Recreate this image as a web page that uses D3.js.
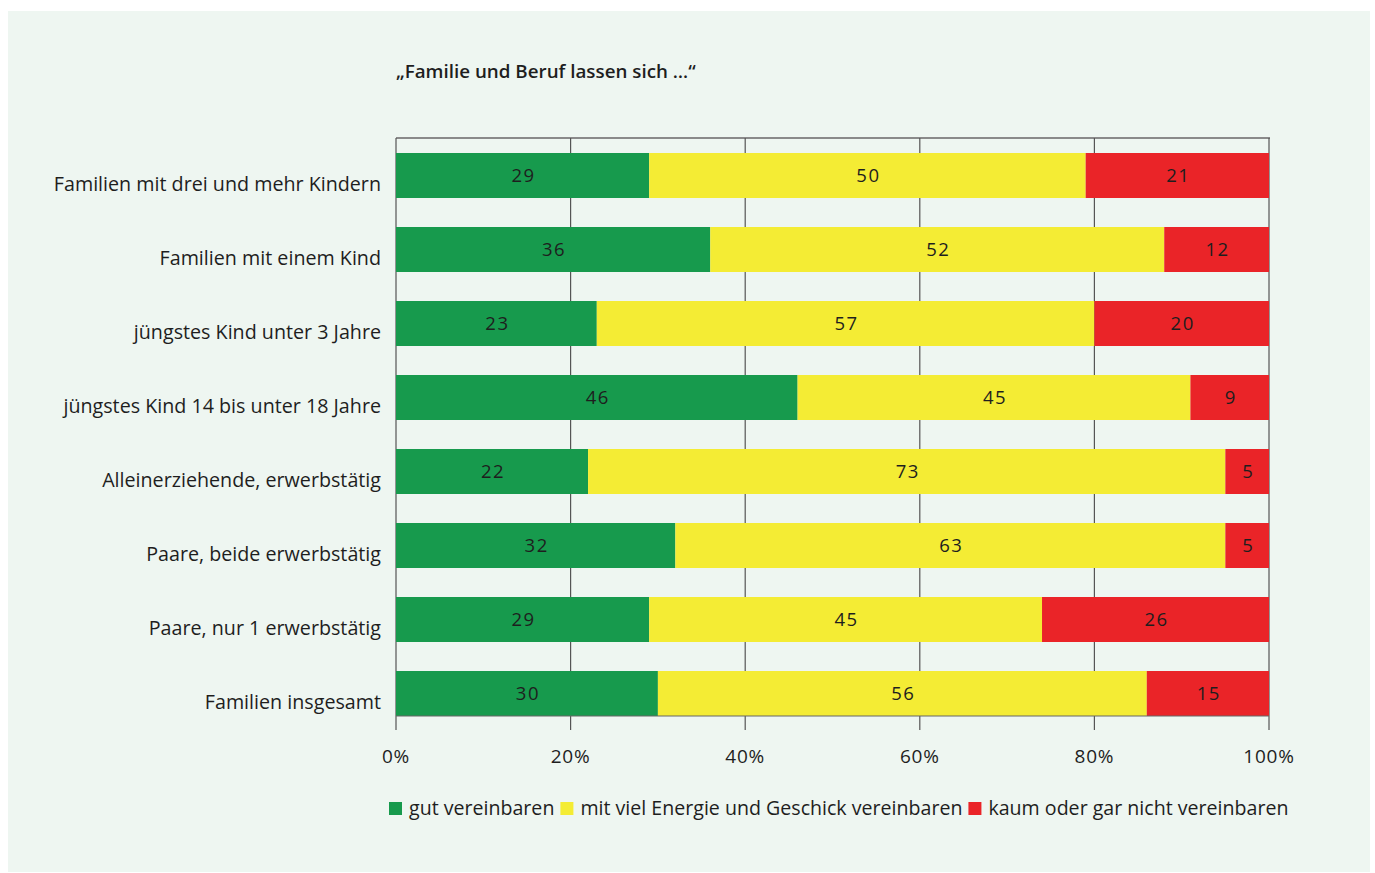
<!DOCTYPE html>
<html>
<head>
<meta charset="utf-8">
<script src="https://cdn.jsdelivr.net/npm/d3@7"></script>
<style>
  html, body { margin: 0; padding: 0; background: #ffffff; }
  svg { display: block; }
  text { font-family: "Open Sans", "Noto Sans", sans-serif; fill: #1e1e1e; }
</style>
</head>
<body>
<svg id="chart" width="1375" height="873"></svg>
<script>
const categories = [
  "Familien mit drei und mehr Kindern",
  "Familien mit einem Kind",
  "jüngstes Kind unter 3 Jahre",
  "jüngstes Kind 14 bis unter 18 Jahre",
  "Alleinerziehende, erwerbstätig",
  "Paare, beide erwerbstätig",
  "Paare, nur 1 erwerbstätig",
  "Familien insgesamt"
];
const seriesNames = [
  "gut vereinbaren",
  "mit viel Energie und Geschick vereinbaren",
  "kaum oder gar nicht vereinbaren"
];
const gut     = [29, 36, 23, 46, 22, 32, 29, 30];
const energie = [50, 52, 57, 45, 73, 63, 45, 56];
const kaum    = [21, 12, 20,  9,  5,  5, 26, 15];
const colors  = ["#179a4d", "#f4ec34", "#ea2428"];
const tickValues = [0, 20, 40, 60, 80, 100];
const title = "„Familie und Beruf lassen sich …“";

const svg = d3.select("#chart");

// background panel
svg.append("rect").attr("x", 8).attr("y", 11).attr("width", 1362).attr("height", 861)
  .attr("fill", "#eef6f1");

const plotLeft = 396, plotRight = 1269, plotTop = 138, plotBottom = 716;

// rounded shares can add up to 101 – the scale is clamped at 100 %
const x = d3.scaleLinear().domain([0, 100]).range([plotLeft, plotRight]).clamp(true);
const y = d3.scaleBand().domain(categories).range([153, plotBottom])
  .paddingInner(29 / 74).paddingOuter(0);

// title
svg.append("text").attr("x", plotLeft).attr("y", 78)
  .attr("font-size", 18.8).attr("font-weight", 600).text(title);

// frame top line
svg.append("line").attr("x1", plotLeft).attr("x2", plotRight + 1)
  .attr("y1", plotTop).attr("y2", plotTop)
  .attr("stroke", "#8a8a8a").attr("stroke-width", 2);

// vertical grid lines with ticks below the plot
svg.append("g").selectAll("line").data(tickValues).join("line")
  .attr("x1", d => x(d)).attr("x2", d => x(d))
  .attr("y1", plotTop).attr("y2", plotBottom + 14)
  .attr("stroke", "#555").attr("stroke-width", 1.2);

// stacked bars
const rows = categories.map((c, i) => ({ cat: c, vals: [gut[i], energie[i], kaum[i]] }));
const stackData = rows.map(r => {
  let acc = 0;
  return r.vals.map((v, k) => { const s = { cat: r.cat, k, v, x0: acc, x1: acc + v }; acc += v; return s; });
}).flat();

svg.append("g").selectAll("rect").data(stackData).join("rect")
  .attr("x", d => x(d.x0)).attr("width", d => x(d.x1) - x(d.x0))
  .attr("y", d => y(d.cat)).attr("height", y.bandwidth())
  .attr("fill", d => colors[d.k]);

svg.append("g").selectAll("text").data(stackData).join("text")
  .attr("x", d => (x(d.x0) + x(d.x1)) / 2 + 1)
  .attr("y", d => y(d.cat) + y.bandwidth() / 2 + 6.5)
  .attr("text-anchor", "middle").attr("font-size", 18.5)
  .attr("letter-spacing", 1.5)
  .text(d => d.v);

// bottom axis line
svg.append("line").attr("x1", plotLeft).attr("x2", plotRight)
  .attr("y1", plotBottom).attr("y2", plotBottom)
  .attr("stroke", "#666").attr("stroke-width", 1);

// category labels
svg.append("g").selectAll("text").data(categories).join("text")
  .attr("x", 381).attr("y", d => y(d) + y.bandwidth() / 2 + 15)
  .attr("text-anchor", "end").attr("font-size", 19.7)
  .text(d => d);

// x tick labels
svg.append("g").selectAll("text").data(tickValues).join("text")
  .attr("x", d => x(d)).attr("y", 763)
  .attr("text-anchor", "middle").attr("font-size", 19)
  .attr("letter-spacing", 0.8)
  .text(d => d + "%");

// legend
const legend = svg.append("g");
let lx = 389;
seriesNames.forEach((name, k) => {
  legend.append("rect").attr("x", lx).attr("y", 802).attr("width", 13).attr("height", 13)
    .attr("fill", colors[k]);
  const t = legend.append("text").attr("x", lx + 20).attr("y", 815)
    .attr("font-size", 19.6).text(name);
  lx += 20 + t.node().getComputedTextLength() + 6;
});
</script>
</body>
</html>
